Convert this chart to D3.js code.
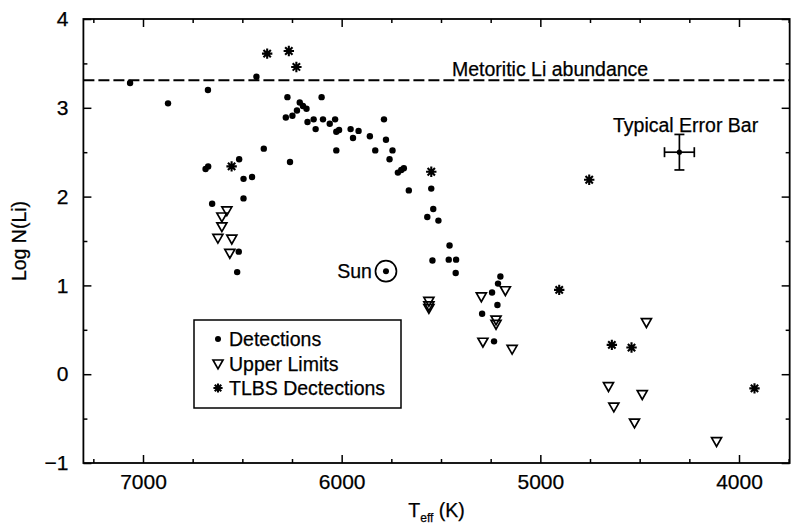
<!DOCTYPE html>
<html>
<head>
<meta charset="utf-8">
<script src="https://cdn.jsdelivr.net/npm/d3@7"></script>
<style>
  body { margin: 0; background: #fff; }
  svg text { font-family: "Liberation Sans", Arial, Helvetica, sans-serif; fill: #000; stroke: #000; stroke-width: 0.25px; }
</style>
</head>
<body>
<div id="chart"></div>
<script>
// detections: Teff (K) and log N(Li)
const detT = [7065, 6874, 6673, 6685, 6672, 6652, 6516, 6494, 6451, 6392, 6494, 6518, 6526, 6429,
  6273, 6281, 6248, 6260, 6211, 6195, 6225, 6177, 6172, 6141, 6101, 6131, 6094, 6060, 6033, 6027,
  6013, 6027, 5955, 5915, 5943, 5858, 5831, 5787, 5777, 5744, 5759, 5717, 5700, 5687, 5662, 5549,
  5539, 5569, 5513, 5457, 5543, 5461, 5424, 5426, 5201, 5213, 5243, 5216, 5293, 5233]
const detL = [3.28, 3.05, 3.20, 2.31, 2.34, 1.92, 2.42, 2.20, 2.22, 2.54, 1.98, 1.38, 1.15, 3.35,
  3.12, 2.89, 2.91, 2.39, 3.06, 3.02, 2.97, 2.99, 2.84, 2.87, 3.12, 2.76, 2.87, 2.82, 2.87, 2.73,
  2.75, 2.52, 2.76, 2.74, 2.66, 2.68, 2.52, 2.87, 2.64, 2.52, 2.42, 2.27, 2.30, 2.32, 2.07, 2.09,
  1.86, 1.77, 1.73, 1.45, 1.28, 1.29, 1.29, 1.14, 1.10, 1.02, 0.92, 0.78, 0.68, 0.37]

// upper limits
const limT = [6578, 6603, 6603, 6623, 6553, 6563, 5561, 5561, 5561, 5297, 5176, 5223, 5223, 5289,
  5142, 4466, 4657, 4487, 4630, 4526, 4113]
const limL = [1.84, 1.77, 1.66, 1.53, 1.52, 1.36, 0.82, 0.77, 0.74, 0.87, 0.94, 0.61, 0.56, 0.36,
  0.28, 0.58, -0.14, -0.23, -0.37, -0.55, -0.76]

// TLBS detections
const tlbsT = [6375, 6266, 6228, 6554, 5549, 4754, 4905, 4640, 4541, 3922]
const tlbsL = [3.61, 3.64, 3.46, 2.34, 2.28, 2.19, 0.95, 0.33, 0.30, -0.16]

const meteoritic = 3.31
const sun = [5777, 1.16]
const errBar = { T: 4300, L: 2.5, dT: 75, dL: 0.2 }

const xMajor = [7000, 6000, 5000, 4000]
const xMinor = [7250, 6750, 6500, 6250, 5750, 5500, 5250, 4750, 4500, 4250, 3750]
const yMajor = [-1, 0, 1, 2, 3, 4]
const yMinor = [-0.5, 0.5, 1.5, 2.5, 3.5]
const legendLabels = ["Detections", "Upper Limits", "TLBS Dectections"]

const width = 792, height = 525

const x = d3.scaleLinear().domain([7000, 4000]).range([143, 739])
const y = d3.scaleLinear().domain([-1, 4]).range([463, 19])
const x0 = x(7300), x1 = x(3745)

const svg = d3.select("#chart").append("svg")
  .attr("width", width)
  .attr("height", height)

function axis(gen, ticks, size, tr) {
  const g = svg.append("g")
    .attr("transform", tr)
    .call(gen.tickValues(ticks).tickSizeInner(size).tickSizeOuter(0).tickFormat(""))
  g.select(".domain").remove()
  g.selectAll("line").attr("stroke", "#000").attr("stroke-width", 1.5)
  return g
}

const bottomY = y(-1), topY = y(4)
axis(d3.axisBottom(x), xMinor, -4, `translate(0,${bottomY})`)
axis(d3.axisTop(x), xMinor, -4, `translate(0,${topY})`)
axis(d3.axisTop(x), xMajor, -8, `translate(0,${topY})`)
axis(d3.axisLeft(y), yMinor, -4, `translate(${x0},0)`)
axis(d3.axisRight(y), yMinor, -4, `translate(${x1},0)`)
axis(d3.axisRight(y), yMajor, -8, `translate(${x1},0)`)

const xb = svg.append("g")
  .attr("transform", `translate(0,${bottomY})`)
  .call(d3.axisBottom(x).tickValues(xMajor).tickSizeInner(-8).tickSizeOuter(0).tickPadding(11).tickFormat(d3.format("d")))
xb.select(".domain").remove()
xb.selectAll("line").attr("stroke", "#000").attr("stroke-width", 1.5)
xb.selectAll("text").style("font-size", "21px").attr("font-family", null)

const yl = svg.append("g")
  .attr("transform", `translate(${x0},0)`)
  .call(d3.axisLeft(y).tickValues(yMajor).tickSizeInner(-8).tickSizeOuter(0).tickPadding(15).tickFormat(d => d < 0 ? "\u2212" + Math.abs(d) : d))
yl.select(".domain").remove()
yl.selectAll("line").attr("stroke", "#000").attr("stroke-width", 1.5)
yl.selectAll("text").style("font-size", "21px").attr("font-family", null)

svg.append("rect")
  .attr("x", x0).attr("y", topY)
  .attr("width", x1 - x0).attr("height", bottomY - topY)
  .attr("fill", "none").attr("stroke", "#000").attr("stroke-width", 1.8)

// axis titles
svg.append("text")
  .attr("transform", `translate(26,${(topY + bottomY) / 2}) rotate(-90)`)
  .attr("text-anchor", "middle")
  .style("font-size", "19.5px")
  .text("Log N(Li)")

const xt = svg.append("text")
  .attr("x", (x0 + x1) / 2).attr("y", 517)
  .attr("text-anchor", "middle")
  .style("font-size", "19.5px")
xt.append("tspan").text("T")
xt.append("tspan").attr("dy", 5).style("font-size", "12px").text("eff")
xt.append("tspan").attr("dy", -5).text(" (K)")

// meteoritic line
svg.append("line")
  .attr("x1", x0).attr("x2", x1)
  .attr("y1", y(meteoritic)).attr("y2", y(meteoritic))
  .attr("stroke", "#000").attr("stroke-width", 1.8)
  .attr("stroke-dasharray", "11,4")
svg.append("text")
  .attr("x", 452).attr("y", y(meteoritic) - 4)
  .style("font-size", "19.5px")
  .text("Metoritic Li abundance")

// symbols
function star(g, s) {
  const a = s * 0.707
  return g.append("path")
    .attr("d", `M${-s},0L${s},0M0,${-s}L0,${s}M${-a},${-a}L${a},${a}M${-a},${a}L${a},${-a}`)
    .attr("stroke", "#000").attr("stroke-width", 2.1).attr("fill", "none")
}
const triPath = "M-5,-4L5,-4L0,4.8Z"

svg.append("g").selectAll("circle")
  .data(detT)
  .join("circle")
  .attr("cx", d => x(d))
  .attr("cy", (d, i) => y(detL[i]))
  .attr("r", 3.2)
  .attr("fill", "#000")

svg.append("g").selectAll("path")
  .data(limT)
  .join("path")
  .attr("transform", (d, i) => `translate(${x(d)},${y(limL[i])})`)
  .attr("d", triPath)
  .attr("fill", "none").attr("stroke", "#000").attr("stroke-width", 1.7)

tlbsT.forEach(function(t, i) {
  const g = svg.append("g").attr("transform", `translate(${x(t)},${y(tlbsL[i])})`)
  star(g, 5.2)
})

// sun
svg.append("circle")
  .attr("cx", x(sun[0])).attr("cy", y(sun[1]))
  .attr("r", 10.5).attr("fill", "none").attr("stroke", "#000").attr("stroke-width", 1.7)
svg.append("circle")
  .attr("cx", x(sun[0])).attr("cy", y(sun[1]))
  .attr("r", 3).attr("fill", "#000")
svg.append("text")
  .attr("x", x(sun[0]) - 14).attr("y", y(sun[1]) + 7)
  .attr("text-anchor", "end")
  .style("font-size", "19.5px")
  .text("Sun")

// typical error bar
const ex = x(errBar.T), ey = y(errBar.L)
const exl = x(errBar.T + errBar.dT), exr = x(errBar.T - errBar.dT)
const eyt = y(errBar.L + errBar.dL), eyb = y(errBar.L - errBar.dL)
const eb = svg.append("g").attr("stroke", "#000").attr("stroke-width", 1.7)
eb.append("line").attr("x1", exl).attr("x2", exr).attr("y1", ey).attr("y2", ey)
eb.append("line").attr("x1", ex).attr("x2", ex).attr("y1", eyt).attr("y2", eyb)
eb.append("line").attr("x1", exl).attr("x2", exl).attr("y1", ey - 5).attr("y2", ey + 5)
eb.append("line").attr("x1", exr).attr("x2", exr).attr("y1", ey - 5).attr("y2", ey + 5)
eb.append("line").attr("x1", ex - 5).attr("x2", ex + 5).attr("y1", eyt).attr("y2", eyt)
eb.append("line").attr("x1", ex - 5).attr("x2", ex + 5).attr("y1", eyb).attr("y2", eyb)
svg.append("circle").attr("cx", ex).attr("cy", ey).attr("r", 2.6).attr("fill", "#000")
svg.append("text")
  .attr("x", 613).attr("y", 132)
  .style("font-size", "19.5px")
  .text("Typical Error Bar")

// legend
const lg = svg.append("g").attr("transform", "translate(194,320)")
lg.append("rect")
  .attr("width", 207).attr("height", 88)
  .attr("fill", "#fff").attr("stroke", "#000").attr("stroke-width", 1.5)
lg.selectAll("text")
  .data(legendLabels)
  .join("text")
  .attr("x", 35)
  .attr("y", (d, i) => 26 + i * 24.5)
  .style("font-size", "19.5px")
  .text(d => d)
lg.append("circle").attr("cx", 24).attr("cy", 19).attr("r", 3).attr("fill", "#000")
lg.append("path").attr("transform", "translate(24,44)").attr("d", triPath)
  .attr("fill", "none").attr("stroke", "#000").attr("stroke-width", 1.7)
star(lg.append("g").attr("transform", "translate(24,68)"), 4.6)
</script>
</body>
</html>
